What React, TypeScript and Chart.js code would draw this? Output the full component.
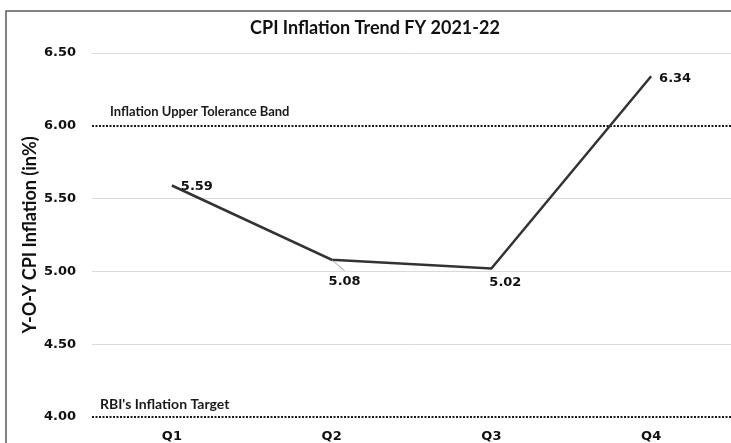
import React, { useEffect, useRef } from "react";
import { Chart, registerables } from "chart.js";

Chart.register(...registerables);

const TITLE = "CPI Inflation Trend FY 2021-22";
const Y_TITLE = "Y-O-Y CPI Inflation (in%)";
const CATEGORIES = ["Q1", "Q2", "Q3", "Q4"];
const CPI_VALUES = [5.59, 5.08, 5.02, 6.34];
const Y_MIN = 4.0;
const Y_MAX = 6.5;
const Y_STEP = 0.5;
const UPPER_BAND = 6.0;
const UPPER_BAND_LABEL = "Inflation Upper Tolerance Band";
const TARGET = 4.0;
const TARGET_LABEL = "RBI's Inflation Target";
// label offsets (px) from each point
const LABEL_DX = [25, 13, 14, 24];
const LABEL_DY = [1, 22, 14, 2];
const LABEL_LEADER = [false, true, false, false];

const W = 731;
const H = 443;

const NARROW = '"Liberation Sans Narrow", Lato, sans-serif';
const TICK_FONT = "DejaVu Sans";

const decorPlugin = {
  id: "decor",
  beforeDatasetsDraw(chart: any) {
    const { ctx, chartArea } = chart;
    const y = chart.scales.y;
    ctx.save();
    ctx.strokeStyle = "#1a1a1a";
    ctx.lineWidth = 2;
    ctx.setLineDash([2, 1.5]);
    [UPPER_BAND, TARGET].forEach((v) => {
      const py = Math.round(y.getPixelForValue(v));
      ctx.beginPath();
      ctx.moveTo(chartArea.left, py);
      ctx.lineTo(chartArea.right, py);
      ctx.stroke();
    });
    ctx.setLineDash([]);
    ctx.fillStyle = "#1a1a1a";
    ctx.font = `bold 13px ${NARROW}`;
    ctx.textBaseline = "middle";
    ctx.textAlign = "left";
    ctx.fillText(UPPER_BAND_LABEL, chartArea.left + 18, y.getPixelForValue(UPPER_BAND) - 14);
    ctx.font = `bold 14px ${NARROW}`;
    ctx.fillText(TARGET_LABEL, chartArea.left + 8, y.getPixelForValue(TARGET) - 13);
    ctx.restore();
  },
  afterDatasetsDraw(chart: any) {
    const { ctx } = chart;
    const meta = chart.getDatasetMeta(0);
    ctx.save();
    ctx.font = `bold 13px ${TICK_FONT}`;
    ctx.fillStyle = "#111";
    ctx.textAlign = "center";
    ctx.textBaseline = "middle";
    meta.data.forEach((pt: any, i: number) => {
      const lx = pt.x + LABEL_DX[i];
      const ly = pt.y + LABEL_DY[i];
      if (LABEL_LEADER[i]) {
        ctx.strokeStyle = "#8a8a8a";
        ctx.lineWidth = 0.8;
        ctx.beginPath();
        ctx.moveTo(pt.x, pt.y);
        ctx.lineTo(lx, ly - 11);
        ctx.stroke();
      }
      ctx.fillText(CPI_VALUES[i].toFixed(2), lx, ly);
    });
    ctx.restore();
  },
  afterDraw(chart: any) {
    const { ctx } = chart;
    ctx.save();
    ctx.strokeStyle = "#5a5a5a";
    ctx.lineWidth = 1.5;
    ctx.strokeRect(6, 11, W + 20, H + 20);
    ctx.fillStyle = "#111";
    ctx.font = `bold 18px Lato, sans-serif`;
    ctx.textAlign = "center";
    ctx.textBaseline = "middle";
    ctx.fillText(TITLE, 375, 28);
    ctx.restore();
  },
};

export default function App() {
  const ref = useRef<HTMLCanvasElement | null>(null);
  useEffect(() => {
    if (!ref.current) return;
    const chart = new Chart(ref.current, {
      type: "line",
      data: {
        labels: CATEGORIES,
        datasets: [
          {
            label: "CPI Inflation",
            data: CPI_VALUES,
            borderColor: "#333333",
            borderWidth: 2.5,
            pointRadius: 0,
            tension: 0,
            fill: false,
          },
        ],
      },
      options: {
        responsive: false,
        animation: false,
        layout: { padding: { top: 53, right: 0, left: 0, bottom: 0 } },
        plugins: {
          legend: { display: false },
          title: { display: false },
          tooltip: { enabled: false },
        },
        scales: {
          x: {
            type: "category",
            offset: true,
            grid: { display: false, drawTicks: false },
            border: { display: false },
            ticks: {
              padding: 12,
              color: "#111",
              font: { family: TICK_FONT, size: 13, weight: "bold" },
            },
            afterFit(scale: any) {
              scale.height = 26;
            },
          },
          y: {
            min: Y_MIN,
            max: Y_MAX,
            border: { display: false },
            grid: {
              drawTicks: false,
              color: (c: any) =>
                c.tick && (c.tick.value === UPPER_BAND || c.tick.value === TARGET)
                  ? "rgba(0,0,0,0)"
                  : "#d9d9d9",
              lineWidth: 1,
            },
            ticks: {
              stepSize: Y_STEP,
              padding: 16,
              color: "#111",
              font: { family: TICK_FONT, size: 13, weight: "bold" },
              callback: (v: any) => Number(v).toFixed(2),
            },
            title: {
              display: true,
              text: Y_TITLE,
              color: "#111",
              font: { family: "Lato, sans-serif", size: 18, weight: "bold" },
              padding: { top: 19, bottom: 0 },
            },
            afterFit(scale: any) {
              scale.width = 92;
            },
          },
        },
      },
      plugins: [decorPlugin],
    });
    return () => chart.destroy();
  }, []);
  return (
    <div style={{ position: "fixed", left: 0, top: 0, width: W, height: H, background: "#fff" }}>
      <canvas ref={ref} width={W} height={H} style={{ width: W, height: H, display: "block" }} />
    </div>
  );
}
